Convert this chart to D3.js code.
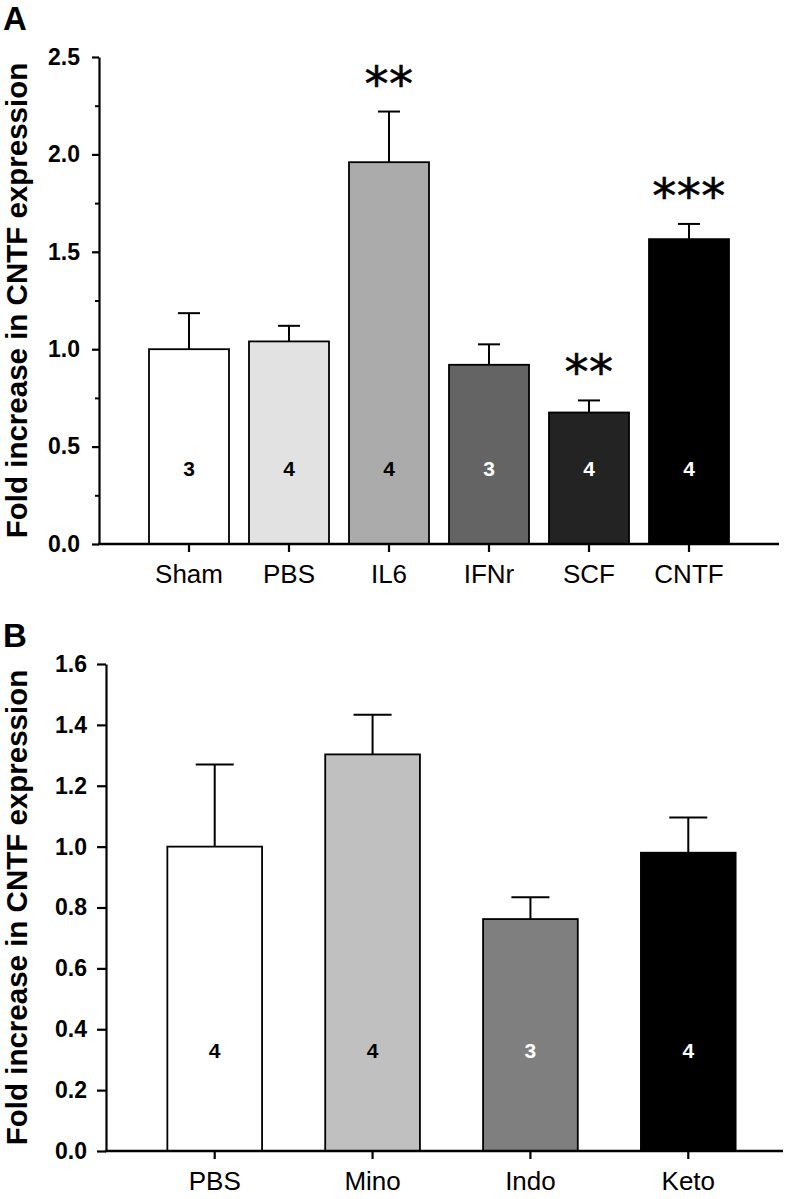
<!DOCTYPE html>
<html>
<head>
<meta charset="utf-8">
<script src="https://cdn.jsdelivr.net/npm/d3@7"></script>
<style>
  body { margin: 0; background: #fff; }
  svg { display: block; font-family: "Liberation Sans", Arial, sans-serif; }
</style>
</head>
<body>
<div id="chart"></div>
<script>
// Panel A data
var groupsA = ["Sham", "PBS", "IL6", "IFNr", "SCF", "CNTF"];
var meansA = [1.00, 1.04, 1.96, 0.92, 0.675, 1.565];
var semA = [0.185, 0.08, 0.26, 0.105, 0.062, 0.078];
var countsA = [3, 4, 4, 3, 4, 4];
var starsA = ["", "", "**", "", "**", "***"];
var ticksA = [0, 0.5, 1.0, 1.5, 2.0, 2.5];
var minorTicksA = [0.25, 0.75, 1.25, 1.75, 2.25];

// Panel B data
var groupsB = ["PBS", "Mino", "Indo", "Keto"];
var meansB = [1.00, 1.303, 0.762, 0.98];
var semB = [0.27, 0.13, 0.072, 0.116];
var countsB = [4, 4, 3, 4];
var ticksB = [0, 0.2, 0.4, 0.6, 0.8, 1.0, 1.2, 1.4, 1.6];

var fillsA = ["#ffffff", "#e2e2e2", "#ababab", "#646464", "#232323", "#000000"];
var labelColA = ["#000", "#000", "#000", "#fff", "#fff", "#fff"];
var fillsB = ["#ffffff", "#c0c0c0", "#7f7f7f", "#000000"];
var labelColB = ["#000", "#000", "#fff", "#fff"];

var svgWidth = 787;
var svgHeight = 1199;

var svg = d3.select("#chart")
  .append("svg")
  .attr("width", svgWidth)
  .attr("height", svgHeight);

function drawPanel(opt) {
  var rows = opt.groups.map(function(g, i) {
    return { group: g, mean: opt.means[i], sem: opt.sem[i], n: opt.counts[i],
             stars: opt.stars ? opt.stars[i] : "", fill: opt.fills[i], lab: opt.labelCols[i] };
  });

  var x = d3.scaleBand()
    .domain(opt.groups)
    .range(opt.xRange)
    .paddingInner(opt.padIn)
    .paddingOuter(opt.padOut);

  var y = d3.scaleLinear()
    .domain(opt.yDomain)
    .range(opt.yRange);

  var g = svg.append("g");

  // bars
  g.selectAll("rect.bar")
    .data(rows)
    .enter()
    .append("rect")
    .attr("class", "bar")
    .attr("x", d => x(d.group))
    .attr("y", d => y(d.mean))
    .attr("width", x.bandwidth())
    .attr("height", d => y(0) - y(d.mean))
    .attr("fill", d => d.fill)
    .attr("stroke", "#000")
    .attr("stroke-width", 1.8);

  // error bars (upper only)
  var cx = d => x(d.group) + x.bandwidth() / 2;
  g.selectAll("line.err")
    .data(rows)
    .enter()
    .append("line")
    .attr("x1", cx).attr("x2", cx)
    .attr("y1", d => y(d.mean))
    .attr("y2", d => y(d.mean + d.sem))
    .attr("stroke", "#000")
    .attr("stroke-width", 2);

  g.selectAll("line.cap")
    .data(rows)
    .enter()
    .append("line")
    .attr("x1", d => cx(d) - opt.capHalf)
    .attr("x2", d => cx(d) + opt.capHalf)
    .attr("y1", d => y(d.mean + d.sem))
    .attr("y2", d => y(d.mean + d.sem))
    .attr("stroke", "#000")
    .attr("stroke-width", 2);

  // n labels
  g.selectAll("text.n")
    .data(rows)
    .enter()
    .append("text")
    .attr("x", cx)
    .attr("y", y(opt.countAt))
    .attr("dy", "0.36em")
    .attr("text-anchor", "middle")
    .attr("font-size", 21)
    .attr("font-weight", "bold")
    .attr("fill", d => d.lab)
    .text(d => d.n);

  // significance stars
  g.selectAll("text.star")
    .data(rows.filter(d => d.stars))
    .enter()
    .append("text")
    .attr("x", cx)
    .attr("y", d => y(d.mean + d.sem) - 11)
    .attr("text-anchor", "middle")
    .attr("font-family", "DejaVu Sans, sans-serif")
    .attr("font-size", 48)
    .attr("stroke", "#000")
    .attr("stroke-width", 0.6)
    .attr("letter-spacing", 0.5)
    .text(d => d.stars);

  // y axis
  var yAxis = g.append("g")
    .attr("transform", `translate(${opt.yAxisX}, 0)`)
    .call(d3.axisLeft(y)
      .tickValues(opt.ticks)
      .tickFormat(d3.format(".1f"))
      .tickSize(opt.tickLen)
      .tickSizeOuter(0)
      .tickPadding(opt.tickPad));
  yAxis.selectAll("text")
    .attr("font-size", 23)
    .attr("font-weight", "bold")
    .attr("font-family", "Liberation Sans, Arial, sans-serif")
    .attr("fill", "#000");
  yAxis.selectAll("line, path").attr("stroke", "#000").attr("stroke-width", 2.2);

  if (opt.minor) {
    var minorAxis = g.append("g")
      .attr("transform", `translate(${opt.yAxisX}, 0)`)
      .call(d3.axisLeft(y).tickValues(opt.minor).tickFormat("").tickSize(4).tickSizeOuter(0));
    minorAxis.select(".domain").remove();
    minorAxis.selectAll("line").attr("stroke", "#000").attr("stroke-width", 2);
  }

  // x axis
  var xAxis = g.append("g")
    .attr("transform", `translate(0, ${y(0)})`)
    .call(d3.axisBottom(x).tickSize(opt.xTickLen).tickSizeOuter(0).tickPadding(13));
  xAxis.select(".domain").remove();
  xAxis.selectAll("line").attr("stroke", "#000").attr("stroke-width", 2.2);
  xAxis.selectAll("text")
    .attr("font-size", 26)
    .attr("font-family", "Liberation Sans, Arial, sans-serif")
    .attr("fill", "#000");

  g.append("line")
    .attr("x1", opt.yAxisX - 1)
    .attr("x2", opt.xEnd)
    .attr("y1", y(0))
    .attr("y2", y(0))
    .attr("stroke", "#000")
    .attr("stroke-width", 2.4);

  // y label
  var midY = (opt.yRange[0] + opt.yRange[1]) / 2;
  g.append("text")
    .attr("transform", `translate(${opt.yLabelX}, ${midY}) rotate(-90)`)
    .attr("text-anchor", "middle")
    .attr("font-size", 29.5)
    .attr("font-weight", "bold")
    .text("Fold increase in CNTF expression");

  // panel letter
  g.append("text")
    .attr("x", 3)
    .attr("y", opt.letterY)
    .attr("font-size", 33)
    .attr("font-weight", "bold")
    .text(opt.letter);
}

drawPanel({
  groups: groupsA, means: meansA, sem: semA, counts: countsA, stars: starsA,
  fills: fillsA, labelCols: labelColA,
  xRange: [99, 779], padIn: 0.2, padOut: 0.5, xEnd: 779,
  yDomain: [0, 2.5], yRange: [544, 57], yAxisX: 99,
  ticks: ticksA, minor: minorTicksA, tickLen: 7, tickPad: 12, xTickLen: 8,
  capHalf: 11, countAt: 0.39, yLabelX: 27, letter: "A", letterY: 30
});

drawPanel({
  groups: groupsB, means: meansB, sem: semB, counts: countsB, stars: null,
  fills: fillsB, labelCols: labelColB,
  xRange: [120, 783], padIn: 0.4, padOut: 0.3, xEnd: 783,
  yDomain: [0, 1.6], yRange: [1151, 664], yAxisX: 106,
  ticks: ticksB, minor: null, tickLen: 9, tickPad: 10, xTickLen: 8,
  capHalf: 19, countAt: 0.33, yLabelX: 27, letter: "B", letterY: 647
});
</script>
</body>
</html>
